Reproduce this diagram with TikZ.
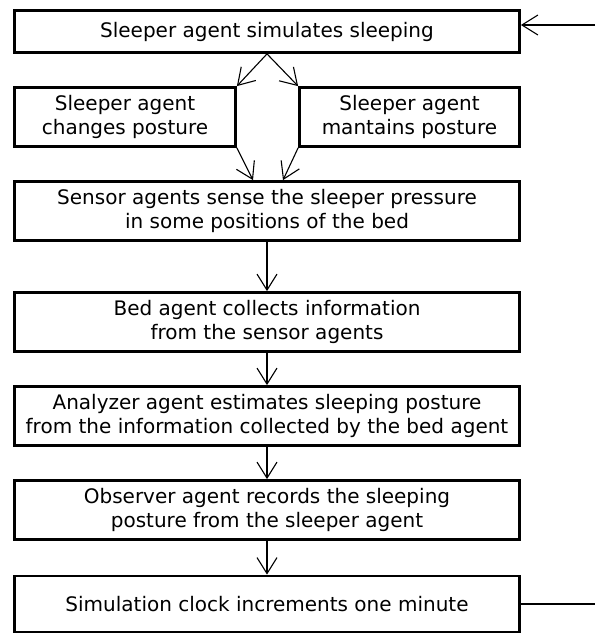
\documentclass[tikz,border=0pt]{standalone}
\usepackage{fontspec}
\setmainfont{DejaVu Sans}
\usetikzlibrary{arrows.meta,calc}
\begin{document}
\begin{tikzpicture}[x=1pt,y=-1pt,
  stepbox/.style={draw,line width=2.8pt,inner sep=0pt,align=center,
    font=\fontsize{20pt}{24pt}\selectfont,text=black},
  arr/.style={line width=1.1pt,-{Straight Barb[length=16pt,width=20pt,line width=1.1pt]}},
  plain/.style={line width=1.1pt}]
\useasboundingbox[fill=white] (0,0) rectangle (595,635);
\node[stepbox,minimum width=505pt,minimum height=42pt] (b1) at (267,31.5) {Sleeper agent simulates sleeping};
\node[stepbox,minimum width=221pt,minimum height=59pt] (b2a) at (125,117) {Sleeper agent\\changes posture};
\node[stepbox,minimum width=220pt,minimum height=59pt] (b2b) at (409.5,117) {Sleeper agent\\mantains posture};
\node[stepbox,minimum width=505pt,minimum height=59pt] (b3) at (267,211) {Sensor agents sense the sleeper pressure\\in some positions of the bed};
\node[stepbox,minimum width=505pt,minimum height=59pt] (b4) at (267,322) {Bed agent collects information\\from the sensor agents};
\node[stepbox,minimum width=505pt,minimum height=59pt] (b5) at (267,416) {Analyzer agent estimates sleeping posture\\from the information collected by the bed agent};
\node[stepbox,minimum width=505pt,minimum height=59pt] (b6) at (267,510) {Observer agent records the sleeping\\posture from the sleeper agent};
\node[stepbox,minimum width=505pt,minimum height=56pt] (b7) at (267,604) {Simulation clock increments one minute};
\coordinate (in) at (595,25);
\coordinate (out) at (595,604);
\draw[arr] (in) -- (in -| b1.east);
\draw[arr] (b1.south) -- (b2a.north east);
\draw[arr] (b1.south) -- (b2b.north west);
\draw[arr] (b2a.south east) -- ($(b3.north)+(-14,0)$);
\draw[arr] (b2b.south west) -- ($(b3.north)+(16,0)$);
\draw[arr] (b3) -- (b4);
\draw[arr] (b4) -- (b5);
\draw[arr] (b5) -- (b6);
\draw[arr] (b6) -- (b7);
\draw[plain] (b7.east) -- (out);
\end{tikzpicture}
\end{document}
